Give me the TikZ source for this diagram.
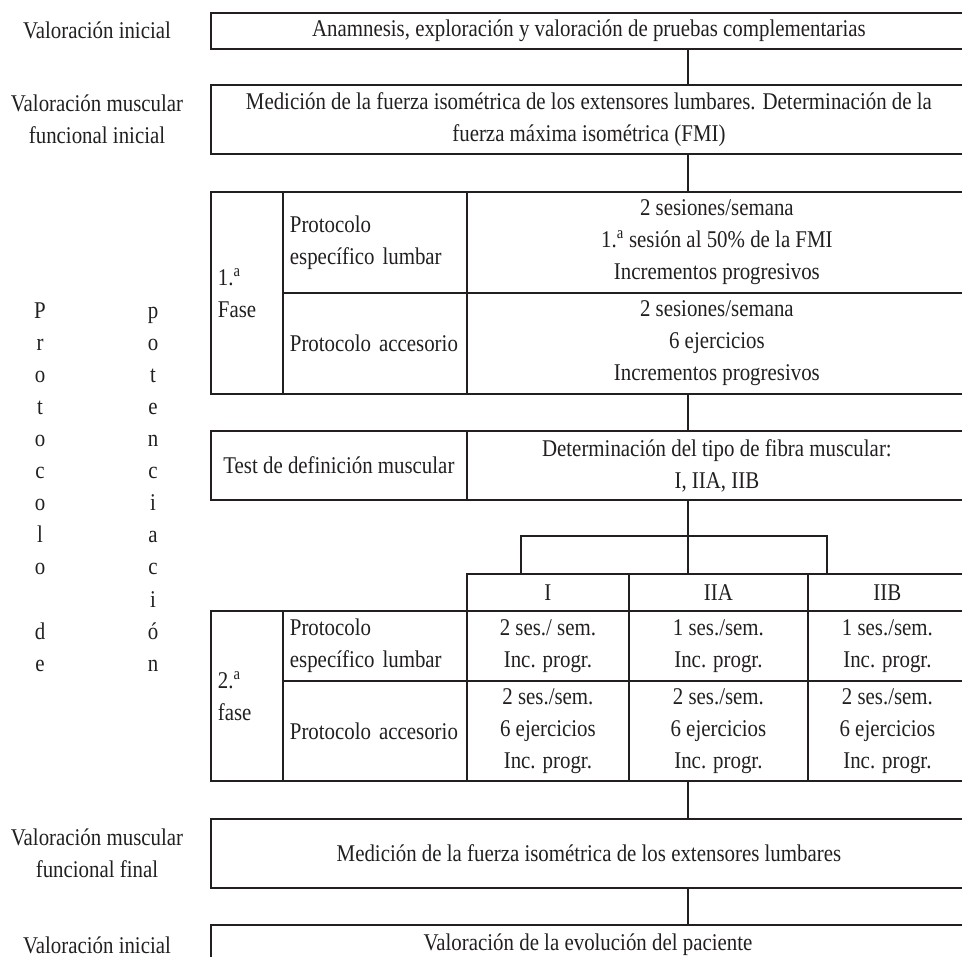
\documentclass[tikz,border=0pt]{standalone}
\usepackage{fontspec}
\setmainfont{Liberation Serif}[FakeStretch=0.87]
\usepackage{xcolor}
\usepackage{tikz}
\usetikzlibrary{positioning,calc}
\definecolor{ink}{HTML}{231F20}
\newcommand{\flowfont}{\fontsize{24}{32}\selectfont\hyphenpenalty=10000}

\begin{document}
\begin{tikzpicture}[x=1pt, y=-1pt,
    every node/.style={font=\flowfont, text=ink},
    box/.style={draw=ink, line width=1.8pt, inner sep=0pt, anchor=north west, align=center},
    leftbox/.style={box, align=left, inner xsep=7pt},
    lbl/.style={align=center, inner sep=0pt},
    link/.style={draw=ink, line width=1.8pt}]
    \useasboundingbox (0,0) rectangle (962,957);
    \clip (0,0) rectangle (962,957);
    \coordinate (axis) at (688,0);

    % left-hand labels
    \node[lbl] (lblini) at (97,30) {Valoración inicial};
    \node[lbl] (lblfmi) at (97,119) {Valoración muscular\\funcional inicial};
    \node[lbl] (lblfin) at (97,853) {Valoración muscular\\funcional final};
    \node[lbl] (lblevol) at (97,945) {Valoración inicial};
    \foreach \ch [count=\k] in {P,r,o,t,o,c,o,l,o,{},d,e}
      \node[anchor=base, inner sep=0pt] (protA-\k) at (40,{319+32*(\k-1)}) {\ch};
    \foreach \ch [count=\k] in {p,o,t,e,n,c,i,a,c,i,ó,n}
      \node[anchor=base, inner sep=0pt] (protB-\k) at (153,{319+32*(\k-1)}) {\ch};

    % main column
    \node[box, minimum width=756pt, minimum height=36pt] (ini) at (210,12) {Anamnesis, exploración y valoración de pruebas complementarias};
    \node[box, minimum width=756pt, minimum height=69pt] (fmi) at (210,84) {Medición de la fuerza isométrica de los extensores lumbares. Determinación de la\\fuerza máxima isométrica (FMI)};

    % 1.a fase
    \node[leftbox, minimum width=72pt, minimum height=202pt, text width=58pt] (fase1) at (210,191) {1.\textsuperscript{a}\\Fase};
    \node[leftbox, minimum width=184pt, minimum height=101pt, text width=170pt] (lumb1) at (282,191) {Protocolo\\específico lumbar};
    \node[leftbox, minimum width=184pt, minimum height=101pt, text width=170pt] (acc1) at (282,292) {Protocolo accesorio};
    \node[box, minimum width=500pt, minimum height=101pt] (lumb1d) at (466,191) {2 sesiones/semana\\1.\textsuperscript{a} sesión al 50\% de la FMI\\Incrementos progresivos};
    \node[box, minimum width=500pt, minimum height=101pt] (acc1d) at (466,292) {2 sesiones/semana\\6 ejercicios\\Incrementos progresivos};

    % test
    \node[box, minimum width=256pt, minimum height=69pt] (test) at (210,430) {Test de definición muscular};
    \node[box, minimum width=500pt, minimum height=69pt] (fibra) at (466,430) {Determinación del tipo de fibra muscular:\\I, IIA, IIB};

    % fibre types
    \node[box, minimum width=162pt, minimum height=37pt] (tI) at (466,573) {I};
    \node[box, minimum width=179pt, minimum height=37pt] (tIIA) at (628,573) {IIA};
    \node[box, minimum width=159pt, minimum height=37pt] (tIIB) at (807,573) {IIB};

    % 2.a fase
    \node[leftbox, minimum width=72pt, minimum height=170pt, text width=58pt] (fase2) at (210,610) {2.\textsuperscript{a}\\fase};
    \node[leftbox, minimum width=184pt, minimum height=70pt, text width=170pt] (lumb2) at (282,610) {Protocolo\\específico lumbar};
    \node[leftbox, minimum width=184pt, minimum height=100pt, text width=170pt] (acc2) at (282,680) {Protocolo accesorio};
    \node[box, minimum width=162pt, minimum height=70pt] (lumbI) at (466,610) {2 ses./ sem.\\Inc. progr.};
    \node[box, minimum width=179pt, minimum height=70pt] (lumbIIA) at (628,610) {1 ses./sem.\\Inc. progr.};
    \node[box, minimum width=159pt, minimum height=70pt] (lumbIIB) at (807,610) {1 ses./sem.\\Inc. progr.};
    \node[box, minimum width=162pt, minimum height=100pt] (accI) at (466,680) {2 ses./sem.\\6 ejercicios\\Inc. progr.};
    \node[box, minimum width=179pt, minimum height=100pt] (accIIA) at (628,680) {2 ses./sem.\\6 ejercicios\\Inc. progr.};
    \node[box, minimum width=159pt, minimum height=100pt] (accIIB) at (807,680) {2 ses./sem.\\6 ejercicios\\Inc. progr.};

    \node[box, minimum width=756pt, minimum height=69pt] (final) at (210,818) {Medición de la fuerza isométrica de los extensores lumbares};
    \node[box, minimum width=756pt, minimum height=60pt] (evol) at (210,924) {};
    \node[lbl] (evoltxt) at (588,945) {Valoración de la evolución del paciente};

    % connectors
    \draw[link] (ini.south -| axis) -- (fmi.north -| axis);
    \draw[link] (fmi.south -| axis) -- (lumb1d.north -| axis);
    \draw[link] (acc1d.south -| axis) -- (fibra.north -| axis);
    \coordinate (split) at (688,536);
    \coordinate (dropI) at (521,573);
    \coordinate (dropIIB) at (827,573);
    \draw[link] (fibra.south -| axis) -- (split);
    \draw[link] (dropI) |- (split) -| (dropIIB);
    \draw[link] (split) -- (tIIA.north -| axis);
    \draw[link] (accIIA.south -| axis) -- (final.north -| axis);
    \draw[link] (final.south -| axis) -- (evol.north -| axis);
  \end{tikzpicture}
\end{document}
